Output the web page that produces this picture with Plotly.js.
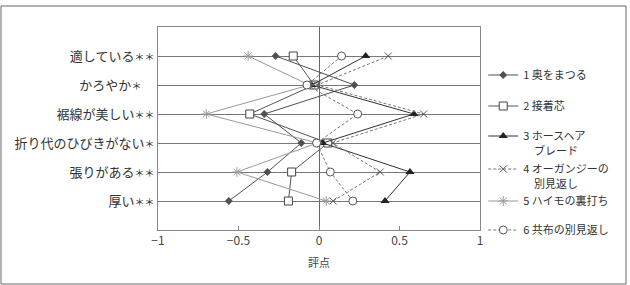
<!DOCTYPE html>
<html>
<head>
<meta charset="utf-8">
<script src="https://cdn.plot.ly/plotly-3.0.1.min.js"></script>
<style>
html,body{margin:0;padding:0;background:#fff;}
#chart{width:630px;height:285px;}
</style>
</head>
<body>
<div id="chart"></div>
<script>
// categories (top to bottom)
const categories = [
  "適している<span style='font-size:10px'>＊＊</span>",
  "かろやか<span style='font-size:10px'>＊</span>　",
  "裾線が美しい<span style='font-size:10px'>＊＊</span>",
  "折り代のひびきがない<span style='font-size:10px'>＊</span>",
  "張りがある<span style='font-size:10px'>＊＊</span>",
  "厚い<span style='font-size:10px'>＊＊</span>"
];
const seriesNames = [
  "1 奥をまつる",
  "2 接着芯",
  "3 ホースヘア",
  "4 オーガンジーの",
  "5 ハイモの裏打ち",
  "6 共布の別見返し"
];
const nameContinuations = ["", "", "ブレード", "別見返し", "", ""];
const s1 = [-0.27, 0.22, -0.34, -0.11, -0.32, -0.56];
const s2 = [-0.16, -0.03, -0.43, 0.055, -0.17, -0.19];
const s3 = [0.29, -0.045, 0.59, 0.023, 0.565, 0.41];
const s4 = [0.43, -0.01, 0.65, 0.085, 0.38, 0.088];
const s5 = [-0.44, -0.06, -0.70, -0.01, -0.51, 0.045];
const s6 = [0.14, -0.075, 0.24, -0.015, 0.07, 0.21];
const xTicks = [-1, -0.5, 0, 0.5, 1];
const xTickText = ["−1", "−0.5", "0", "0.5", "1"];

const styles = [
  {line:{color:'#505050',width:1}, marker:{symbol:'diamond',size:6,color:'#505050'}},
  {line:{color:'#555',width:1}, marker:{symbol:'square',size:8,color:'#fff',line:{color:'#444',width:1}}},
  {line:{color:'#333',width:1}, marker:{symbol:'triangle-up',size:8,color:'#222'}},
  {line:{color:'#777',width:1,dash:'3px,2px'}, marker:{symbol:'x-thin',size:7,color:'#555',line:{color:'#555',width:1}}},
  {line:{color:'#999',width:1}, marker:{symbol:'asterisk',size:8,color:'#999',line:{color:'#999',width:1}}},
  {line:{color:'#777',width:1,dash:'3px,2px'}, marker:{symbol:'circle',size:8,color:'#fff',line:{color:'#555',width:1}}}
];
// legend entry centres, in pixels from the top of the figure
const legendItemPx = [74, 105, 135, 168, 200, 229];
const legendIds = ['legend', 'legend2', 'legend3', 'legend4', 'legend5', 'legend6'];

const allSeries = [s1, s2, s3, s4, s5, s6];
const traces = allSeries.map((vals, i) => ({
  type: 'scatter',
  mode: 'lines+markers',
  x: vals,
  y: categories,
  name: seriesNames[i],
  legend: legendIds[i],
  line: styles[i].line,
  marker: styles[i].marker,
  hoverinfo: 'x+name'
}));

const annotations = [];
nameContinuations.forEach((t, i) => {
  if (!t) return;
  const yPx = legendItemPx[i] + 15;
  annotations.push({
    xref: 'paper', yref: 'paper',
    x: (532 - 158) / 322, y: (230 - yPx) / 203,
    xanchor: 'left', yanchor: 'middle',
    text: t, showarrow: false,
    font: {size: 11, color: '#333'}
  });
});

const layout = {
  width: 630, height: 285,
  margin: {l: 158, r: 150, t: 27, b: 55},
  paper_bgcolor: '#fff', plot_bgcolor: '#fff',
  font: {family: "'Noto Sans CJK JP', 'Noto Sans', sans-serif", color: '#333'},
  showlegend: true,
  annotations: annotations,
  xaxis: {
    range: [-1, 1],
    tickvals: xTicks, ticktext: xTickText,
    ticks: 'inside', ticklen: 4, tickcolor: '#888',
    showgrid: false,
    zeroline: true, zerolinecolor: '#666', zerolinewidth: 1,
    showline: true, linecolor: '#888', linewidth: 1, mirror: true,
    tickfont: {size: 12, color: '#444'},
    title: {text: '評点', font: {size: 11, color: '#444'}, standoff: 11}
  },
  yaxis: {
    type: 'category',
    categoryorder: 'array', categoryarray: categories,
    range: [6, -1],
    showgrid: true, gridcolor: '#777', gridwidth: 1,
    showline: true, linecolor: '#888', linewidth: 1, mirror: true,
    ticks: '', zeroline: false,
    tickfont: {size: 13, color: '#333'}
  },
  shapes: [{
    type: 'rect', xref: 'paper', yref: 'paper',
    x0: (1 - 158) / 322, x1: (626 - 158) / 322,
    y0: (230 - 284) / 203, y1: (230 - 6) / 203,
    line: {color: '#666', width: 1}, fillcolor: 'rgba(0,0,0,0)', layer: 'below'
  }]
};
legendIds.forEach((id, i) => {
  layout[id] = {
    x: 1.01, y: (230 - (legendItemPx[i] - 13.5)) / 203,
    xanchor: 'left', yanchor: 'top',
    font: {size: 11, color: '#333'},
    bgcolor: 'rgba(0,0,0,0)'
  };
});

Plotly.newPlot('chart', traces, layout, {staticPlot: true, displayModeBar: false});
</script>
</body>
</html>
